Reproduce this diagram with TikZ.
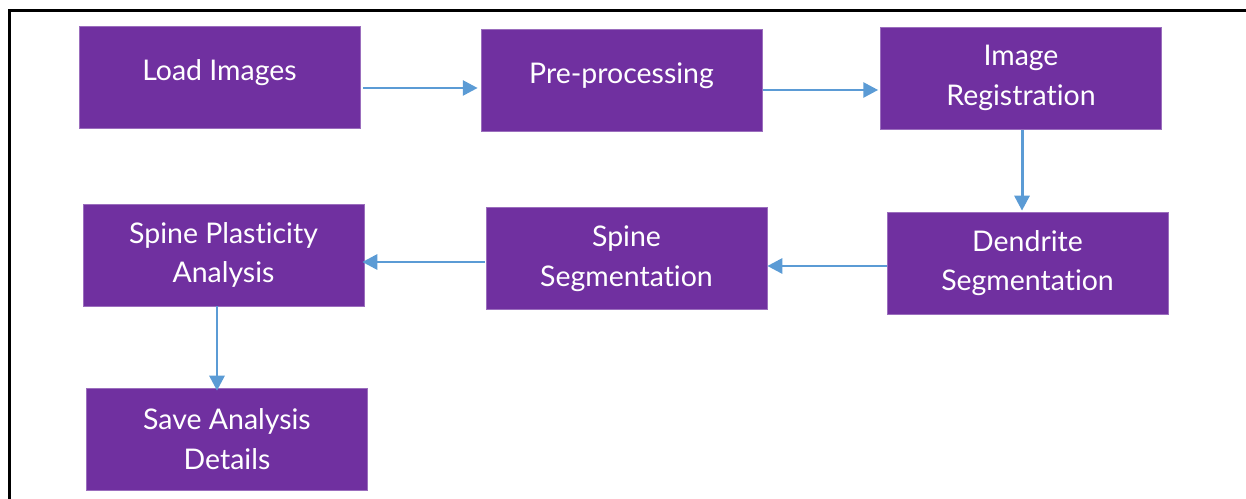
\documentclass[tikz,border=0pt]{standalone}
\usepackage{fontspec}
\setmainfont{Lato}[Ligatures=NoCommon]
\usepackage{tikz}
\usetikzlibrary{arrows.meta}

\definecolor{stepfill}{HTML}{7030A0}
\definecolor{flowblue}{HTML}{5B9BD5}

\tikzset{
  stage/.style={fill=stepfill, draw=stepfill!70!white, line width=0.4pt,
    text=white, align=center, minimum width=5.62cm, minimum height=2.04cm,
    inner sep=0pt, font=\fontsize{16.2}{22.5}\selectfont},
  oneline/.style={text depth=8pt},
  flow/.style={draw=flowblue, line width=1.7pt,
    -{Triangle[length=8.5pt,width=8.5pt]}}
}

\begin{document}
\begin{tikzpicture}[x=0.02cm,y=-0.02cm]
\useasboundingbox (0,0) rectangle (1246,499);
\draw[line width=1.7pt] (9.5,499) -- (9.5,10.5) -- (1246,10.5);

\node[stage,oneline] (load) at (219.5,77) {Load Images};
\node[stage,oneline] (pre) at (621.5,80.5) {Pre-processing};
\node[stage] (reg) at (1021,78) {Image\\Registration};

\node[stage] (dend) at (1027.5,263) {Dendrite\\Segmentation};
\node[stage] (spine) at (626.5,258.5) {Spine\\Segmentation};
\node[stage] (plast) at (223.5,255) {Spine Plasticity\\Analysis};

\node[stage] (save) at (227,439) {Save Analysis\\Details};

\draw[flow] ([shift={(3,11)}]load.east) -- ([shift={(-3,11)}]load.east -| pre.west);
\draw[flow] ([shift={(1,9.5)}]pre.east) -- ([shift={(-2,9.5)}]pre.east -| reg.west);
\draw[flow] ([shift={(1,1)}]reg.south) -- ([shift={(1,-1)}]reg.south |- dend.north);
\draw[flow] ([shift={(0,3)}]dend.west) -- ([shift={(0,3)}]dend.west -| spine.east);
\draw[flow] ([shift={(-1,3.5)}]spine.west) -- ([shift={(-2,3.5)}]spine.west -| plast.east);
\draw[flow] ([shift={(-6.5,0)}]plast.south) -- ([shift={(-6.5,3)}]plast.south |- save.north);
\end{tikzpicture}
\end{document}
